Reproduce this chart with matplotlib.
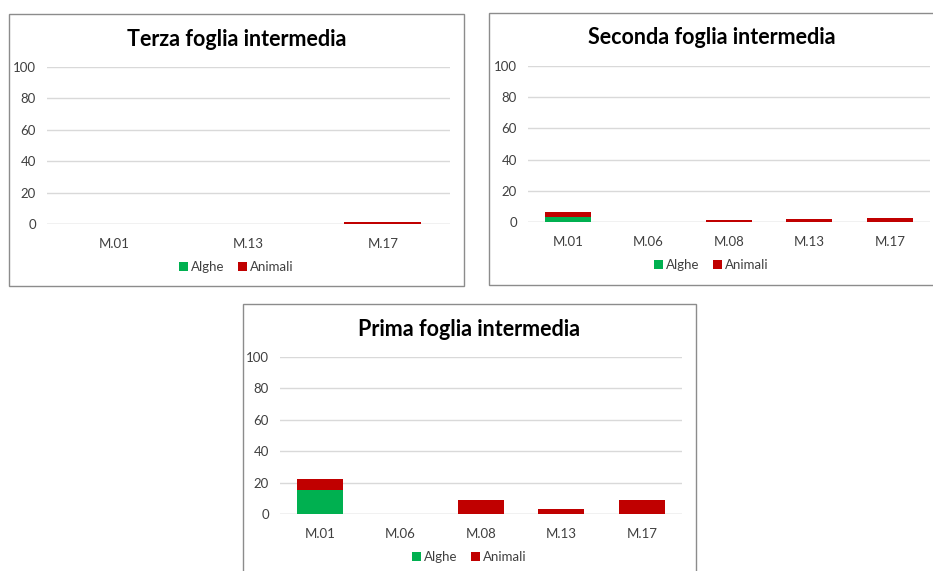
import matplotlib
matplotlib.use("Agg")
import matplotlib.pyplot as plt
from matplotlib.patches import Rectangle, Patch
import numpy as np

plt.rcParams['font.family'] = ['Lato', 'DejaVu Sans']

W, H = 933, 571

# --- data -------------------------------------------------------------
terza_sites = ["M.01", "M.13", "M.17"]
terza_alghe = [0, 0, 0]
terza_animali = [0, 0, 1]

seconda_sites = ["M.01", "M.06", "M.08", "M.13", "M.17"]
seconda_alghe = [3, 0, 0, 0, 0]
seconda_animali = [3.3, 0, 1, 2, 2.5]

prima_sites = ["M.01", "M.06", "M.08", "M.13", "M.17"]
prima_alghe = [15, 0, 0, 0, 0]
prima_animali = [7, 0, 9, 3, 9]

titles = ["Terza foglia intermedia", "Seconda foglia intermedia", "Prima foglia intermedia"]
series_names = ["Alghe", "Animali"]
yticks = [0, 20, 40, 60, 80, 100]

GREEN = "#00b050"
RED = "#c00000"
GRID = "#d9d9d9"
BORDER = "#8c8c8c"

fig = plt.figure(figsize=(W / 100, H / 100), dpi=100)


def fx(x):
    return x / W


def fy(y):
    return 1 - y / H


def panel(box, plot, sites, alghe, animali, title, title_y, legend_y):
    bx0, by0, bx1, by1 = box
    fig.patches.append(Rectangle((fx(bx0), fy(by1)), fx(bx1 - bx0), (by1 - by0) / H,
                                 transform=fig.transFigure, fill=False,
                                 edgecolor=BORDER, linewidth=1.0))
    px0, py_top, px1, py_zero = plot
    ax = fig.add_axes([fx(px0), fy(py_zero), fx(px1 - px0), (py_zero - py_top) / H])
    x = np.arange(len(sites))
    width = 1 / 1.75
    ax.bar(x, alghe, width, color=GREEN, zorder=3)
    ax.bar(x, animali, width, bottom=alghe, color=RED, zorder=3)
    ax.set_xlim(-0.5, len(sites) - 0.5)
    ax.set_ylim(0, 100)
    ax.set_yticks(yticks)
    ax.set_xticks(x)
    ax.set_xticklabels(sites)
    for s in ax.spines.values():
        s.set_visible(False)
    ax.grid(axis="y", color=GRID, linewidth=1.0, zorder=0)
    ax.set_axisbelow(True)
    ax.axhline(0, color=GRID, linewidth=1.0, zorder=1)
    ax.tick_params(axis="both", length=0, labelsize=9.5, colors="#404040")
    ax.tick_params(axis="x", pad=10)
    ax.tick_params(axis="y", pad=8)
    cx = (bx0 + bx1) / 2
    fig.text(fx(cx), fy(title_y), title, ha="center", va="center",
             fontsize=15.5, fontweight="bold", color="#000000")
    handles = [Patch(facecolor=GREEN, edgecolor="none"), Patch(facecolor=RED, edgecolor="none")]
    fig.legend(handles, series_names, loc="center", bbox_to_anchor=(fx(cx), fy(legend_y)),
               ncol=2, frameon=False, fontsize=9.5, handlelength=0.65, handleheight=0.65,
               handletextpad=0.25, columnspacing=1.0, labelcolor="#404040")
    return ax


panel((9, 14, 464, 286), (47, 66.7, 450, 224), terza_sites, terza_alghe, terza_animali,
      titles[0], 39, 267)
panel((489, 13, 934, 285), (528, 66, 930, 222), seconda_sites, seconda_alghe, seconda_animali,
      titles[1], 38, 265)
panel((243, 304, 696, 580), (280, 357, 682, 514), prima_sites, prima_alghe, prima_animali,
      titles[2], 329, 557)

fig.savefig("out.png", dpi=100, facecolor="white")
